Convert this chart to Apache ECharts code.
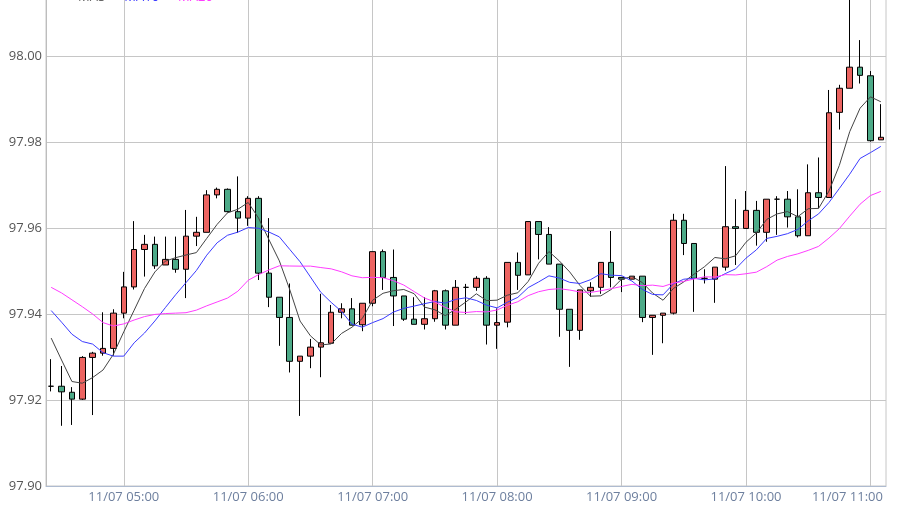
<!DOCTYPE html>
<html><head><meta charset="utf-8">
<script src="https://cdn.jsdelivr.net/npm/echarts@6/dist/echarts.min.js"></script>
<style>html,body{margin:0;padding:0;background:#fff}#c{width:907px;height:514px}</style>
</head><body><div id="c"></div>
<script>
const times = [
'11/07 04:25','11/07 04:30','11/07 04:35','11/07 04:40','11/07 04:45','11/07 04:50','11/07 04:55',
'11/07 05:00','11/07 05:05','11/07 05:10','11/07 05:15','11/07 05:20','11/07 05:25','11/07 05:30','11/07 05:35','11/07 05:40','11/07 05:45','11/07 05:50','11/07 05:55',
'11/07 06:00','11/07 06:05','11/07 06:10','11/07 06:15','11/07 06:20','11/07 06:25','11/07 06:30','11/07 06:35','11/07 06:40','11/07 06:45','11/07 06:50','11/07 06:55',
'11/07 07:00','11/07 07:05','11/07 07:10','11/07 07:15','11/07 07:20','11/07 07:25','11/07 07:30','11/07 07:35','11/07 07:40','11/07 07:45','11/07 07:50','11/07 07:55',
'11/07 08:00','11/07 08:05','11/07 08:10','11/07 08:15','11/07 08:20','11/07 08:25','11/07 08:30','11/07 08:35','11/07 08:40','11/07 08:45','11/07 08:50','11/07 08:55',
'11/07 09:00','11/07 09:05','11/07 09:10','11/07 09:15','11/07 09:20','11/07 09:25','11/07 09:30','11/07 09:35','11/07 09:40','11/07 09:45','11/07 09:50','11/07 09:55',
'11/07 10:00','11/07 10:05','11/07 10:10','11/07 10:15','11/07 10:20','11/07 10:25','11/07 10:30','11/07 10:35','11/07 10:40','11/07 10:45','11/07 10:50','11/07 10:55',
'11/07 11:00','11/07 11:05'];

const opens = [97.9232,97.9232,97.9218,97.9202,97.9299,97.9309,97.9320,97.9402,97.9463,97.9550,
97.9562,97.9514,97.9527,97.9504,97.9581,97.9590,97.9677,97.9690,97.9638,97.9623,
97.9669,97.9495,97.9439,97.9392,97.9290,97.9302,97.9323,97.9332,97.9404,97.9412,
97.9375,97.9425,97.9545,97.9485,97.9442,97.9388,97.9376,97.9389,97.9454,97.9374,
97.9462,97.9462,97.9483,97.9374,97.9381,97.9520,97.9491,97.9615,97.9585,97.9516,
97.9411,97.9362,97.9454,97.9462,97.9520,97.9485,97.9481,97.9488,97.9392,97.9397,
97.9402,97.9618,97.9564,97.9483,97.9481,97.9509,97.9603,97.9599,97.9641,97.9590,
97.9667,97.9667,97.9626,97.9582,97.9682,97.9671,97.9869,97.9925,97.9974,97.9954,97.9805];
const closes = [97.9232,97.9219,97.9202,97.9299,97.9309,97.9320,97.9402,97.9463,97.9550,97.9562,
97.9512,97.9527,97.9504,97.9581,97.9590,97.9677,97.9690,97.9638,97.9623,97.9669,
97.9495,97.9439,97.9392,97.9290,97.9302,97.9323,97.9333,97.9404,97.9412,97.9374,
97.9425,97.9545,97.9485,97.9442,97.9388,97.9376,97.9389,97.9454,97.9374,97.9462,
97.9462,97.9483,97.9374,97.9380,97.9520,97.9490,97.9615,97.9585,97.9516,97.9411,
97.9362,97.9456,97.9462,97.9520,97.9485,97.9481,97.9488,97.9392,97.9397,97.9402,
97.9618,97.9564,97.9483,97.9483,97.9509,97.9603,97.9599,97.9641,97.9590,97.9667,
97.9667,97.9626,97.9582,97.9682,97.9671,97.9868,97.9925,97.9974,97.9955,97.9803,97.9811];
const lows = [97.9220,97.9140,97.9142,97.9200,97.9165,97.9303,97.9303,97.9390,97.9457,97.9487,
97.9505,97.9514,97.9496,97.9437,97.9558,97.9590,97.9669,97.9636,97.9589,97.9605,
97.9479,97.9416,97.9326,97.9264,97.9163,97.9274,97.9253,97.9332,97.9390,97.9374,
97.9360,97.9418,97.9456,97.9372,97.9384,97.9376,97.9364,97.9382,97.9364,97.9374,
97.9400,97.9454,97.9329,97.9319,97.9369,97.9456,97.9491,97.9527,97.9516,97.9347,
97.9277,97.9340,97.9440,97.9447,97.9462,97.9451,97.9481,97.9381,97.9305,97.9332,
97.9399,97.9537,97.9405,97.9471,97.9426,97.9501,97.9514,97.9599,97.9559,97.9568,
97.9584,97.9601,97.9578,97.9582,97.9646,97.9671,97.9829,97.9925,97.9936,97.9801,97.9805];
const highs = [97.9295,97.9279,97.9230,97.9302,97.9312,97.9404,97.9411,97.9498,97.9616,97.9584,
97.9580,97.9580,97.9580,97.9642,97.9626,97.9688,97.9694,97.9692,97.9720,97.9674,
97.9674,97.9623,97.9439,97.9471,97.9302,97.9342,97.9447,97.9421,97.9425,97.9437,
97.9425,97.9545,97.9550,97.9550,97.9442,97.9439,97.9439,97.9456,97.9457,97.9479,
97.9470,97.9488,97.9488,97.9413,97.9520,97.9543,97.9615,97.9615,97.9602,97.9516,
97.9411,97.9456,97.9474,97.9520,97.9593,97.9485,97.9488,97.9488,97.9397,97.9402,
97.9633,97.9633,97.9564,97.9504,97.9509,97.9744,97.9667,97.9686,97.9663,97.9667,
97.9674,97.9686,97.9690,97.9748,97.9764,97.9921,97.9933,98.0150,98.0037,97.9965,97.9888];

// moving-average values at the start of the view (window not yet full)
const ma5Lead = [97.9344,97.9293,97.9243,97.9239];
const ma10Lead = [97.9408,97.9381,97.9353,97.9336,97.9330,97.9310,97.9302,97.9302,97.9333];
const ma20Lead = [97.9462,97.9449,97.9433,97.9417,97.9400,97.9380,97.9372,97.9377,97.9386,97.9394,
97.9399,97.9401,97.9402,97.9403,97.9409,97.9419,97.9428,97.9437,97.9453];

const seriesNames = ['MA5','MA10','MA20'];
const yMin = 97.90, yMax = 98.02, yStep = 0.02;

function movingAvg(n, lead){
  return closes.map((c, i) => {
    if (i < n - 1) return lead[i];
    let s = 0;
    for (let k = i - n + 1; k <= i; k++) s += closes[k];
    return +(s / n).toFixed(5);
  });
}

const hourly = (idx, val) => /:00$/.test(val);
const chart = echarts.init(document.getElementById('c'), null, {renderer:'canvas'});
const lineCols = ['#444444','#3b3bff','#ff3cff'];
chart.setOption({
  animation:false,
  backgroundColor:'#fff',
  legend:{
    top:-14, left:57, itemGap:3, itemWidth:10, itemHeight:6,
    data: seriesNames.map((n,i)=>({name:n, textStyle:{color: i===0?'#666':lineCols[i]}})),
    textStyle:{fontFamily:'Open Sans', fontSize:13}
  },
  grid:{left:46, right:21, top:-30, bottom:28, show:true, borderColor:'#c6c6c6', borderWidth:1,
        containLabel:false, outerBoundsMode:'none'},
  xAxis:{
    type:'category', data:times, boundaryGap:true,
    axisLine:{show:true, lineStyle:{color:'#aebbd0', width:1}},
    axisTick:{show:false},
    axisLabel:{
      interval:hourly, color:'#6d7f9e', fontFamily:'Open Sans', fontSize:13, margin:5,
      formatter:(v)=> v === '11/07 11:00' ? '{r|' + v + '}' : v,
      rich:{r:{padding:[0,46,0,0], color:'#6d7f9e', fontFamily:'Open Sans', fontSize:13}}
    },
    splitLine:{show:true, interval:hourly, alignWithLabel:true, lineStyle:{color:'#c6c6c6', width:1}}
  },
  yAxis:{
    type:'value', min:yMin, max:yMax, interval:yStep, scale:true,
    axisLine:{show:true, lineStyle:{color:'#bdbdbd'}},
    axisTick:{show:false},
    axisLabel:{color:'#555', fontFamily:'Open Sans', fontSize:13, margin:4, formatter:(v)=>v.toFixed(2)},
    splitLine:{show:true, lineStyle:{color:'#c6c6c6', width:1}}
  },
  series:[
    {
      type:'candlestick', name:'K',
      data: times.map((t,i)=>[opens[i], closes[i], lows[i], highs[i]]),
      barWidth:6,
      itemStyle:{color:'#ec6461', color0:'#4daa88', borderColor:'#000', borderColor0:'#000', borderColorDoji:'#000', borderWidth:1}
    },
    {type:'line', name:'MA5', data:movingAvg(5, ma5Lead), symbol:'none', lineStyle:{width:1, color:lineCols[0]}, itemStyle:{color:lineCols[0]}},
    {type:'line', name:'MA10', data:movingAvg(10, ma10Lead), symbol:'none', lineStyle:{width:1, color:lineCols[1]}, itemStyle:{color:lineCols[1]}},
    {type:'line', name:'MA20', data:movingAvg(20, ma20Lead), symbol:'none', lineStyle:{width:1, color:lineCols[2]}, itemStyle:{color:lineCols[2]}}
  ]
});
</script>
</body></html>
